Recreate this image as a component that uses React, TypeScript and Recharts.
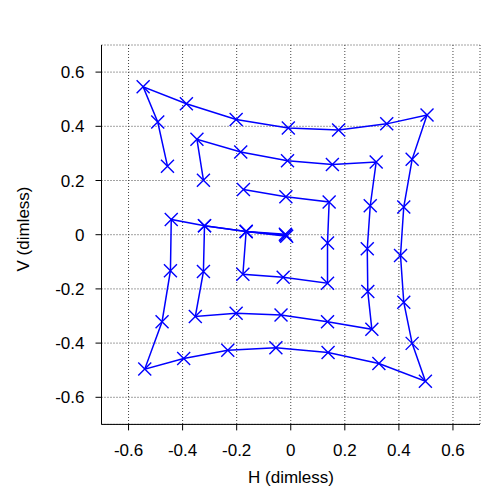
import { ScatterChart, Scatter, XAxis, YAxis, CartesianGrid } from "recharts";

// tick positions shared by both axes
const ticks = [-0.6, -0.4, -0.2, 0, 0.2, 0.4, 0.6];

// scan 1: inner ring
const scan1X = [-0.018, -0.165, -0.177, -0.028, 0.136, 0.136, 0.142, -0.018, -0.175];
const scan1Y = [-0.002, 0.012, -0.146, -0.157, -0.179, -0.031, 0.121, 0.14, 0.167];

// scan 2: middle ring
const scan2X = [
  -0.015, -0.165, -0.319, -0.323, -0.353, -0.202, -0.036, 0.136, 0.3, 0.285, 0.283, 0.294,
  0.316, 0.154, -0.012, -0.185, -0.347, -0.323,
];
const scan2Y = [
  -0.006, 0.012, 0.033, -0.136, -0.302, -0.29, -0.296, -0.321, -0.349, -0.21, -0.052, 0.107,
  0.268, 0.259, 0.273, 0.305, 0.352, 0.201,
];

// scan 3: outer ring
const scan3X = [
  -0.02, -0.165, -0.319, -0.442, -0.445, -0.476, -0.54, -0.396, -0.233, -0.055, 0.138, 0.326,
  0.498, 0.449, 0.418, 0.406, 0.418, 0.449, 0.504, 0.355, 0.177, -0.009, -0.202, -0.386, -0.546,
  -0.492, -0.456,
];
const scan3Y = [
  0.002, 0.012, 0.033, 0.056, -0.133, -0.321, -0.496, -0.457, -0.426, -0.417, -0.435, -0.475,
  -0.541, -0.401, -0.249, -0.077, 0.102, 0.278, 0.442, 0.409, 0.386, 0.394, 0.425, 0.483, 0.546,
  0.416, 0.253,
];

const toPoints = (xs: number[], ys: number[]) => xs.map((x, i) => ({ x, y: ys[i] }));

const BLUE = "#0000ff";
const FONT = '"Liberation Sans", Arial, Helvetica, sans-serif';

const CrossMark = (props: any) => {
  const { cx, cy } = props;
  if (cx == null || cy == null) return null;
  const r = 6.5;
  return (
    <path
      d={`M${cx - r},${cy - r}L${cx + r},${cy + r}M${cx - r},${cy + r}L${cx + r},${cy - r}`}
      stroke={BLUE}
      strokeWidth={1.4}
      fill="none"
    />
  );
};

const fmt = (v: number) => (v === 0 ? "0" : v.toFixed(1));
const tickStyle = { fill: "#000", fontSize: 17, fontFamily: FONT };

export default function App() {
  return (
    <div
      style={{ position: "absolute", left: 0, top: 0, width: 485, height: 489, background: "#fff" }}
    >
      <ScatterChart width={485} height={489} margin={{ top: 45, right: 5, bottom: 0, left: 0 }}>
        <CartesianGrid
          xAxisId="bottom"
          yAxisId="left"
          stroke="#444"
          strokeDasharray="1 2"
        />
        <XAxis
          xAxisId="bottom"
          type="number"
          dataKey="x"
          domain={[-0.7, 0.7]}
          ticks={ticks}
          tickFormatter={fmt}
          height={64.6}
          tick={tickStyle}
          tickSize={6}
          tickMargin={14}
          axisLine={{ stroke: "#000" }}
          tickLine={{ stroke: "#000" }}
          label={{
            content: () => (
              <text x={291} y={483} textAnchor="middle" fontSize={17} fontFamily={FONT} fill="#000">
                H (dimless)
              </text>
            ),
          }}
        />
        <XAxis
          xAxisId="top"
          orientation="top"
          type="number"
          dataKey="x"
          domain={[-0.7, 0.7]}
          ticks={ticks}
          tickFormatter={() => ""}
          height={0}
          tickSize={5}
          axisLine={{ stroke: "#000" }}
          tickLine={{ stroke: "#000" }}
          label={{
            content: () => (
              <text x={291} y={18} textAnchor="middle" fontSize={16} fontFamily={FONT} fill="#000">
                BPM #5
              </text>
            ),
          }}
        />
        <YAxis
          yAxisId="left"
          type="number"
          dataKey="y"
          domain={[-0.7, 0.7]}
          ticks={ticks}
          tickFormatter={fmt}
          width={101.5}
          tick={tickStyle}
          tickSize={6}
          tickMargin={11}
          axisLine={{ stroke: "#000" }}
          tickLine={{ stroke: "#000" }}
          label={{
            content: () => (
              <text
                x={23}
                y={229}
                transform="rotate(-90 23 229)"
                textAnchor="middle"
                dominantBaseline="central"
                fontSize={17}
                fontFamily={FONT}
                fill="#000"
              >
                V (dimless)
              </text>
            ),
          }}
        />
        <YAxis
          yAxisId="right"
          orientation="right"
          type="number"
          dataKey="y"
          domain={[-0.7, 0.7]}
          ticks={ticks}
          tickFormatter={() => ""}
          width={0}
          tickSize={5}
          axisLine={{ stroke: "#000" }}
          tickLine={{ stroke: "#000" }}
        />
        <Scatter
          xAxisId="bottom"
          yAxisId="left"
          data={toPoints(scan1X, scan1Y)}
          line={{ stroke: BLUE, strokeWidth: 1.5 }}
          shape={CrossMark}
          isAnimationActive={false}
        />
        <Scatter
          xAxisId="bottom"
          yAxisId="left"
          data={toPoints(scan2X, scan2Y)}
          line={{ stroke: BLUE, strokeWidth: 1.5 }}
          shape={CrossMark}
          isAnimationActive={false}
        />
        <Scatter
          xAxisId="bottom"
          yAxisId="left"
          data={toPoints(scan3X, scan3Y)}
          line={{ stroke: BLUE, strokeWidth: 1.5 }}
          shape={CrossMark}
          isAnimationActive={false}
        />
      </ScatterChart>
    </div>
  );
}
